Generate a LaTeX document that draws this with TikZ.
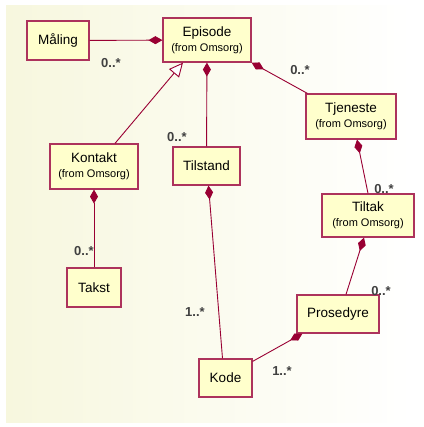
\documentclass[tikz,border=0pt]{standalone}
\usepackage{fontspec}
\setmainfont{Liberation Sans}
\usepackage{tikz}
\usetikzlibrary{arrows.meta}
\definecolor{umlred}{RGB}{153,0,51}
\definecolor{umlfill}{RGB}{255,255,204}
\definecolor{bgcream}{RGB}{247,247,222}

\begin{document}
\begin{tikzpicture}[x=1pt,y=-1pt,
  cls/.style={draw=umlred!80,fill=umlfill,line width=1.2pt,align=center,
              inner sep=1pt,font=\fontsize{13.5}{16}\selectfont},
  mult/.style={inner sep=0pt,text=black!75,font=\bfseries\fontsize{13}{13}\selectfont},
  comp/.style={draw=umlred,line width=0.9pt,-{Diamond[length=14pt,width=8pt,fill=umlred]}},
  gen/.style={draw=umlred,line width=0.9pt,-{Triangle[length=14pt,width=13pt,fill=white]}}]
  \useasboundingbox (0,0) rectangle (423,427);
  \shade[left color=bgcream,right color=white] (6,6) rectangle (412,422);
  % classes
  \node[cls,minimum width=62pt,minimum height=39pt] (maling) at (58,40.5) {Måling};
  \node[cls,minimum width=88pt,minimum height=44pt] (episode) at (207,40)
    {Episode\\[-1pt]{\fontsize{11}{12}\selectfont(from Omsorg)}};
  \node[cls,minimum width=88pt,minimum height=45pt] (kontakt) at (94,166.5)
    {Kontakt\\[-1pt]{\fontsize{11}{12}\selectfont(from Omsorg)}};
  \node[cls,minimum width=67pt,minimum height=38pt] (tilstand) at (206.5,166) {Tilstand};
  \node[cls,minimum width=54pt,minimum height=39pt] (takst) at (94,287.5) {Takst};
  \node[cls,minimum width=90pt,minimum height=45pt] (tjeneste) at (351,116.5)
    {Tjeneste\\[-1pt]{\fontsize{11}{12}\selectfont(from Omsorg)}};
  \node[cls,minimum width=92pt,minimum height=43pt] (tiltak) at (368,215.5)
    {Tiltak\\[-1pt]{\fontsize{11}{12}\selectfont(from Omsorg)}};
  \node[cls,minimum width=82pt,minimum height=38pt] (prosedyre) at (338,314) {Prosedyre};
  \node[cls,minimum width=53pt,minimum height=38pt] (kode) at (225.5,378) {Kode};
  % associations
  \draw[comp] (maling) -- (episode);
  \draw[gen] ([xshift=21pt]kontakt.north) -- ([xshift=-24pt]episode.south);
  \draw[comp] (tilstand) -- (episode);
  \draw[comp] ([xshift=2pt]tjeneste.north west) -- (episode.south east);
  \draw[comp] (tiltak.north) -- ([xshift=6pt]tjeneste.south);
  \draw[comp] ([xshift=8pt]prosedyre.north) -- ([xshift=-4pt]tiltak.south);
  \draw[comp] (takst) -- (kontakt);
  \draw[comp] ([xshift=-3pt]kode.north) -- ([xshift=2pt]tilstand.south);
  \draw[comp] ([yshift=-3pt]kode.north east) -- ([xshift=6pt]prosedyre.south west);
  % multiplicities
  \node[mult] (m1) at (111,63) {0..*};
  \node[mult] (m2) at (177,137) {0..*};
  \node[mult] (m3) at (300,70) {0..*};
  \node[mult] (m4) at (384,189) {0..*};
  \node[mult] (m5) at (381,291) {0..*};
  \node[mult] (m6) at (84,251) {0..*};
  \node[mult] (m7) at (195,312) {1..*};
  \node[mult] (m8) at (282,371) {1..*};
\end{tikzpicture}
\end{document}
